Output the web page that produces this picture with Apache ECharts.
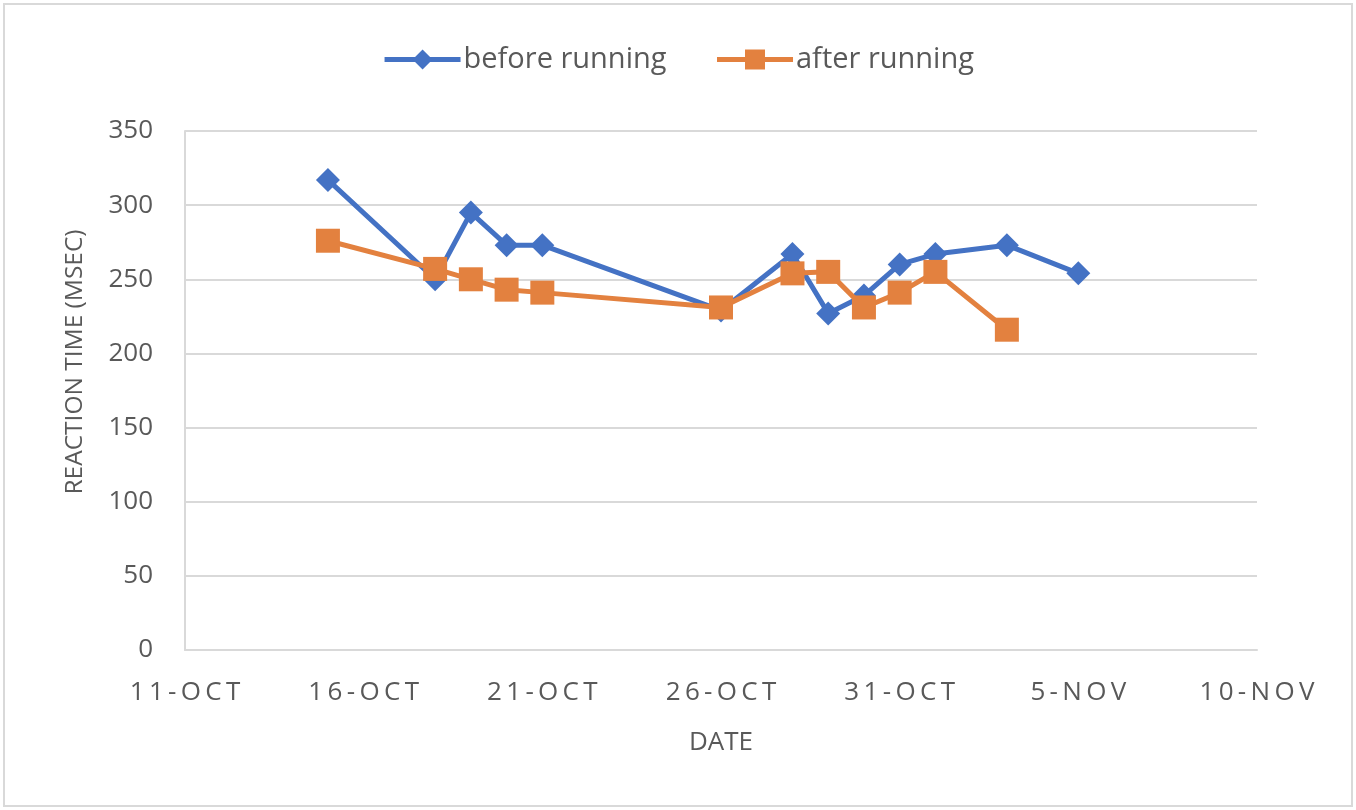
<!DOCTYPE html>
<html>
<head>
<meta charset="utf-8">
<script src="https://cdn.jsdelivr.net/npm/echarts@6/dist/echarts.min.js"></script>
<style>
html,body{margin:0;padding:0;background:#fff;}
#chart{width:1356px;height:810px;}
</style>
</head>
<body>
<div id="chart"></div>
<script>
const beforeDates = ['15-Oct','18-Oct','19-Oct','20-Oct','21-Oct','26-Oct','28-Oct','29-Oct','30-Oct','31-Oct','1-Nov','3-Nov','5-Nov'];
const beforeValues = [317,250,295,273,273,229,267,227,239,260,267,273,254];
const afterDates = ['15-Oct','18-Oct','19-Oct','20-Oct','21-Oct','26-Oct','28-Oct','29-Oct','30-Oct','31-Oct','1-Nov','3-Nov'];
const afterValues = [276,257,250,243,241,231,254,255,231,241,255,216];
const xTickLabels = ['11-OCT','16-OCT','21-OCT','26-OCT','31-OCT','5-NOV','10-NOV'];
const seriesNames = ['before running','after running'];

const MONTHS = {Oct:9, Nov:10};
function dayOffset(s){
  const [d,m] = s.split('-');
  return Math.round((Date.UTC(2019, MONTHS[m], +d) - Date.UTC(2019, 9, 11)) / 86400000);
}
const beforeData = beforeDates.map((d,i)=>[dayOffset(d), beforeValues[i]]);
const afterData = afterDates.map((d,i)=>[dayOffset(d), afterValues[i]]);

const FONT = "'Open Sans', 'Noto Sans', sans-serif";
const TXT = '#595959';
const GRID = '#d9d9d9';

const chart = echarts.init(document.getElementById('chart'));
chart.setOption({
  animation:false,
  backgroundColor:'#fff',
  textStyle:{fontFamily:FONT},
  legend:{
    top:40, left:'center',
    itemWidth:76, itemHeight:25, itemGap:48,
    lineStyle:{width:5},
    textStyle:{fontFamily:FONT, fontSize:29, color:TXT, padding:[0,0,0,-2]},
    data:seriesNames
  },
  grid:{left:185, right:99, top:131, bottom:160, containLabel:false},
  xAxis:{
    type:'value', min:0, max:30, interval:5,
    axisLine:{show:true, lineStyle:{color:GRID, width:2}},
    axisTick:{show:false},
    splitLine:{show:false},
    axisLabel:{
      margin:30, fontSize:26, color:TXT, fontFamily:FONT,
      formatter:function(v){ const l = xTickLabels[Math.round(v/5)] || ''; return l.split('').join('\u2009'); }
    },
    name:'DATE', nameLocation:'middle', nameGap:80,
    nameTextStyle:{fontSize:26, color:TXT, fontFamily:FONT}
  },
  yAxis:{
    type:'value', min:0, max:350, interval:50,
    axisLine:{show:true, lineStyle:{color:GRID, width:2}},
    axisTick:{show:false},
    splitLine:{show:true, lineStyle:{color:GRID, width:2}},
    axisLabel:{margin:32, fontSize:26, color:TXT, fontFamily:FONT}
  },
  graphic:[
    {type:'rect', shape:{x:4, y:4, width:1348, height:802}, style:{fill:'none', stroke:GRID, lineWidth:2}, silent:true},
    {type:'text', x:75, y:362, rotation:Math.PI/2,
     style:{text:'REACTION TIME (MSEC)', fontSize:24.5, fill:TXT, fontFamily:FONT, align:'center', verticalAlign:'middle'}}
  ],
  series:[
    {
      name:seriesNames[0], type:'line', data:beforeData,
      symbol:'diamond', symbolSize:24,
      itemStyle:{color:'#4472C4'},
      lineStyle:{color:'#4472C4', width:5},
      z:2
    },
    {
      name:seriesNames[1], type:'line', data:afterData,
      symbol:'rect', symbolSize:24,
      itemStyle:{color:'#E3813F'},
      lineStyle:{color:'#E3813F', width:5},
      z:3
    }
  ]
});
</script>
</body>
</html>
